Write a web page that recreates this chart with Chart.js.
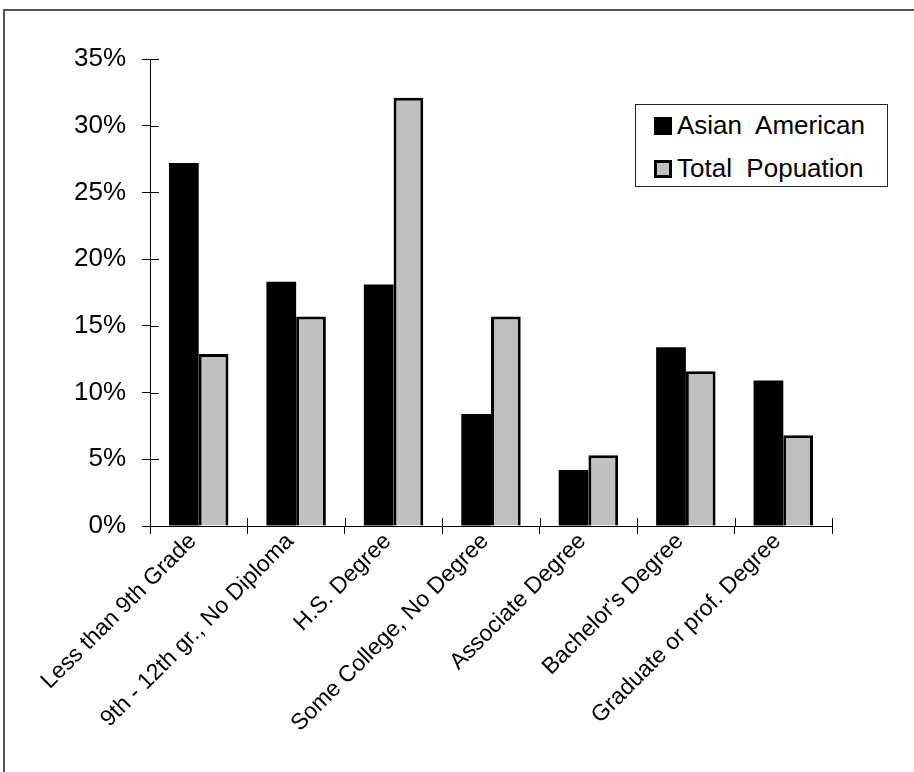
<!DOCTYPE html>
<html>
<head>
<meta charset="utf-8">
<script src="https://cdn.jsdelivr.net/npm/chart.js@4/dist/chart.umd.min.js"></script>
<style>
  html, body { margin:0; padding:0; background:#fff; overflow:hidden; }
  #wrap { position:relative; width:914px; height:772px; }
  #frame { position:absolute; left:3px; top:9px; width:1000px; height:900px; border:2px solid #555; box-sizing:border-box; }
  #legend { position:absolute; left:635px; top:104px; width:253px; height:83px; border:1.5px solid #222;
            box-sizing:border-box; background:#fff; font-family:"Liberation Sans", Arial, sans-serif; font-size:26px; color:#000; }
  .row { position:absolute; left:18px; display:flex; align-items:center; white-space:pre; }
  .swatch { width:18px; height:18px; box-sizing:border-box; margin-right:5px; }
</style>
</head>
<body>
<div id="wrap">
  <div id="frame"></div>
  <canvas id="chart" width="914" height="772"></canvas>
  <div id="legend"></div>
</div>
<script>
// Data
const categories = [
  "Less than 9th Grade",
  "9th - 12th gr., No Diploma",
  "H.S. Degree",
  "Some College, No Degree",
  "Associate Degree",
  "Bachelor's Degree",
  "Graduate or prof. Degree"
];
const asianAmerican = [27.2, 18.3, 18.1, 8.4, 4.2, 13.4, 10.9];
const totalPopulation = [12.9, 15.7, 32.1, 15.7, 5.3, 11.6, 6.8];
const seriesNames = ["Asian  American", "Total  Popuation"];
const yMax = 35;
const yStep = 5;

const FONT = "'Liberation Sans', Arial, sans-serif";

// Ticks that cross the axes (inner half)
const innerTicks = {
  id: "innerTicks",
  afterDraw(chart){
    const ctx = chart.ctx;
    const xs = chart.scales.x, ys = chart.scales.y;
    ctx.save();
    ctx.strokeStyle = "#000";
    ctx.lineWidth = 1;
    ys.ticks.forEach(t => {
      const py = Math.round(ys.getPixelForValue(t.value)) + 0.5;
      ctx.beginPath(); ctx.moveTo(ys.right, py); ctx.lineTo(ys.right + 9, py); ctx.stroke();
    });
    const step = (xs.right - xs.left) / categories.length;
    for(let i = 0; i <= categories.length; i++){
      const px = Math.round(xs.left + i * step) + 0.5;
      ctx.beginPath(); ctx.moveTo(px, xs.top); ctx.lineTo(px, xs.top - 8); ctx.stroke();
    }
    ctx.restore();
  }
};

const ctx = document.getElementById("chart").getContext("2d");
new Chart(ctx, {
  type: "bar",
  data: {
    labels: categories,
    datasets: [
      { label: seriesNames[0], data: asianAmerican, backgroundColor: "#000", borderWidth: 0 },
      { label: seriesNames[1], data: totalPopulation, backgroundColor: "#c0c0c0",
        borderColor: "#000", borderWidth: 3, borderSkipped: "bottom" }
    ]
  },
  options: {
    responsive: false,
    animation: false,
    layout: { padding: { left: 4, top: 59, right: 82, bottom: 0 } },
    datasets: { bar: { categoryPercentage: 0.61, barPercentage: 1 } },
    plugins: { legend: { display: false }, tooltip: { enabled: false } },
    scales: {
      x: {
        grid: { drawOnChartArea: false, drawTicks: true, tickLength: 8, color: "#000", lineWidth: 1 },
        border: { display: true, color: "#000", width: 1 },
        ticks: { color: "#000", font: { family: FONT, size: 23 }, maxRotation: 45, minRotation: 45,
                 autoSkip: false, padding: -6, labelOffset: -6 },
        afterFit(scale){ scale.height = 246; }
      },
      y: {
        min: 0, max: yMax,
        grid: { drawOnChartArea: false, drawTicks: true, tickLength: 8, color: "#000", lineWidth: 1 },
        border: { display: true, color: "#000", width: 1 },
        ticks: { stepSize: yStep, color: "#000", font: { family: FONT, size: 26 }, padding: 16,
                 callback: v => v + "%" },
        afterFit(scale){ scale.width = 146; }
      }
    }
  },
  plugins: [innerTicks]
});

// Legend
const legendEl = document.getElementById("legend");
const swatches = [
  { bg: "#000", border: "none" },
  { bg: "#c0c0c0", border: "3px solid #000" }
];
seriesNames.forEach((name, i) => {
  const row = document.createElement("div");
  row.className = "row";
  row.style.top = (i === 0 ? 5 : 48) + "px";
  const sw = document.createElement("span");
  sw.className = "swatch";
  sw.style.background = swatches[i].bg;
  sw.style.border = swatches[i].border;
  const txt = document.createElement("span");
  txt.textContent = name;
  row.appendChild(sw);
  row.appendChild(txt);
  legendEl.appendChild(row);
});
</script>
</body>
</html>
